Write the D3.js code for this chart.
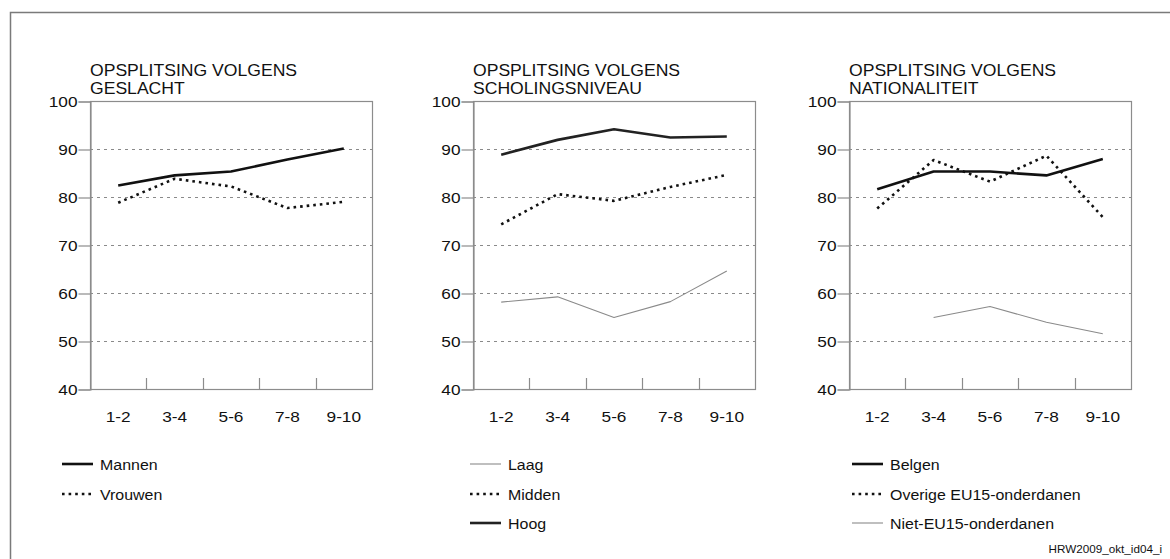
<!DOCTYPE html>
<html>
<head>
<meta charset="utf-8">
<script src="https://cdn.jsdelivr.net/npm/d3@7"></script>
<style>
  html, body { margin: 0; padding: 0; background: #fff; }
  svg { display: block; }
  text { font-family: "Liberation Sans", Arial, Helvetica, sans-serif; fill: #111; }
</style>
</head>
<body>
<svg id="chart" width="1170" height="559"></svg>
<script>
// Age groups on the x axis and the y tick values shared by the three panels
const categories = ["1-2", "3-4", "5-6", "7-8", "9-10"];
const yTicks = [40, 50, 60, 70, 80, 90, 100];
const gridValues = [50, 60, 70, 80, 90];

// Panel 1: by gender
const mannen  = [82.4, 84.5, 85.3, 87.8, 90.1];
const vrouwen = [78.8, 83.8, 82.2, 77.7, 79.0];

// Panel 2: by education level
const laag   = [58.1, 59.2, 54.9, 58.2, 64.6];
const midden = [74.3, 80.6, 79.2, 82.1, 84.6];
const hoog   = [88.8, 91.9, 94.1, 92.4, 92.6];

// Panel 3: by nationality (no value for the first group of non-EU15 nationals)
const belgen  = [81.6, 85.3, 85.3, 84.5, 87.9];
const overige = [77.6, 87.7, 83.2, 88.6, 75.8];
const nietEU  = [null, 54.9, 57.2, 53.9, 51.5];

const titles = [
  ["OPSPLITSING VOLGENS", "GESLACHT"],
  ["OPSPLITSING VOLGENS", "SCHOLINGSNIVEAU"],
  ["OPSPLITSING VOLGENS", "NATIONALITEIT"]
];
const footerText = "HRW2009_okt_id04_i";

// Line styles
const STYLE = {
  solid:  { stroke: "#111", width: 2.6, dash: null },
  dotted: { stroke: "#111", width: 2.6, dash: "2.6,4" },
  thin:   { stroke: "#8a8a8a", width: 1.1, dash: null },
  dark:   { stroke: "#222", width: 2.6, dash: null }
};

const panels = [
  { left: 90, legendX: 62, series: [
      { name: "Mannen", values: mannen, style: "solid" },
      { name: "Vrouwen", values: vrouwen, style: "dotted" } ] },
  { left: 473, legendX: 470, series: [
      { name: "Laag", values: laag, style: "thin" },
      { name: "Midden", values: midden, style: "dotted" },
      { name: "Hoog", values: hoog, style: "dark" } ] },
  { left: 849, legendX: 852, series: [
      { name: "Belgen", values: belgen, style: "solid" },
      { name: "Overige EU15-onderdanen", values: overige, style: "dotted" },
      { name: "Niet-EU15-onderdanen", values: nietEU, style: "thin" } ] }
];

const W = 1170, H = 559;
const plotW = 282;
const yTop = 101, yBottom = 389;
const frameColor = "#8c8c8c";

const svg = d3.select("#chart");

// outer frame: open on the right and bottom
svg.append("path")
  .attr("d", `M10.5,${H} L10.5,12.5 L${W},12.5`)
  .attr("fill", "none")
  .attr("stroke", "#7a7a7a")
  .attr("stroke-width", 1.5);

const y = d3.scaleLinear().domain([40, 100]).range([yBottom, yTop]);

// lettering is slightly widened horizontally
function stretchedText(sel, x, yPos, str, size, sx, anchor) {
  return sel.append("text")
    .attr("transform", `translate(${x},${yPos}) scale(${sx},1)`)
    .attr("text-anchor", anchor || "start")
    .style("font-size", size + "px")
    .text(str);
}

panels.forEach((p, pi) => {
  const g = svg.append("g");
  const x = d3.scaleBand().domain(categories).range([p.left, p.left + plotW]).padding(0);
  const cx = c => x(c) + x.bandwidth() / 2;

  // title, two lines
  titles[pi].forEach((t, i) => stretchedText(g, p.left, 75.5 + i * 18, t, 16, 1.1));

  // dashed grid
  g.selectAll("line.grid").data(gridValues).join("line")
    .attr("x1", p.left).attr("x2", p.left + plotW)
    .attr("y1", d => y(d) + 0.5).attr("y2", d => y(d) + 0.5)
    .attr("stroke", "#8a8a8a").attr("stroke-width", 1)
    .attr("stroke-dasharray", "3,4");

  // plot box
  g.append("rect")
    .attr("x", p.left + 0.5).attr("y", y(100) + 0.5)
    .attr("width", plotW).attr("height", y(40) - y(100))
    .attr("fill", "none").attr("stroke", frameColor).attr("stroke-width", 1.2);

  // y axis with outward ticks
  const yAxis = g.append("g")
    .attr("transform", `translate(${p.left + 0.5},0.5)`)
    .call(d3.axisLeft(y).tickValues(yTicks).tickSize(12).tickPadding(2).tickFormat(d3.format("d")));
  yAxis.select(".domain").attr("stroke", frameColor).attr("stroke-width", 1.2);
  yAxis.selectAll(".tick line").attr("stroke", frameColor).attr("stroke-width", 1.2);
  yAxis.selectAll(".tick text")
    .attr("x", null).attr("dy", "0.36em")
    .attr("transform", "translate(-13,0) scale(1.15,1)")
    .style("font-size", "15px")
    .style("font-family", "'Liberation Sans', Arial, sans-serif")
    .attr("fill", "#111");

  // x axis labels, no ticks
  const xAxis = g.append("g")
    .attr("transform", `translate(0,${yBottom})`)
    .call(d3.axisBottom(x).tickSize(0).tickPadding(0));
  xAxis.select(".domain").remove();
  xAxis.selectAll(".tick text")
    .attr("y", null).attr("dy", null)
    .attr("transform", "translate(0,33) scale(1.15,1)")
    .style("font-size", "15px")
    .style("font-family", "'Liberation Sans', Arial, sans-serif")
    .attr("fill", "#111");

  // inward ticks on the boundaries between age groups
  g.selectAll("line.xtick").data(categories.slice(1)).join("line")
    .attr("x1", d => Math.round(x(d)) + 0.5).attr("x2", d => Math.round(x(d)) + 0.5)
    .attr("y1", yBottom).attr("y2", yBottom - 11)
    .attr("stroke", frameColor).attr("stroke-width", 1.2);

  // series lines
  const line = d3.line()
    .defined(d => d.v != null)
    .x(d => cx(d.c))
    .y(d => y(d.v));

  p.series.forEach(s => {
    const st = STYLE[s.style];
    g.append("path")
      .datum(categories.map((c, i) => ({ c, v: s.values[i] })))
      .attr("d", line)
      .attr("fill", "none")
      .attr("stroke", st.stroke)
      .attr("stroke-width", st.width)
      .attr("stroke-dasharray", st.dash)
      .attr("stroke-linejoin", "round");
  });

  // legend
  const rows = [464, 494, 523];
  p.series.forEach((s, i) => {
    const st = STYLE[s.style];
    const lx = p.legendX;
    g.append("line")
      .attr("x1", lx).attr("x2", lx + 31)
      .attr("y1", rows[i]).attr("y2", rows[i])
      .attr("stroke", st.stroke).attr("stroke-width", st.width)
      .attr("stroke-dasharray", st.dash);
    stretchedText(g, lx + 38, rows[i] + 5.5, s.name, 15.5, 1.03);
  });
});

// source code in the bottom right corner
stretchedText(svg, 1162, 553, footerText, 10, 1.17, "end");
</script>
</body>
</html>
